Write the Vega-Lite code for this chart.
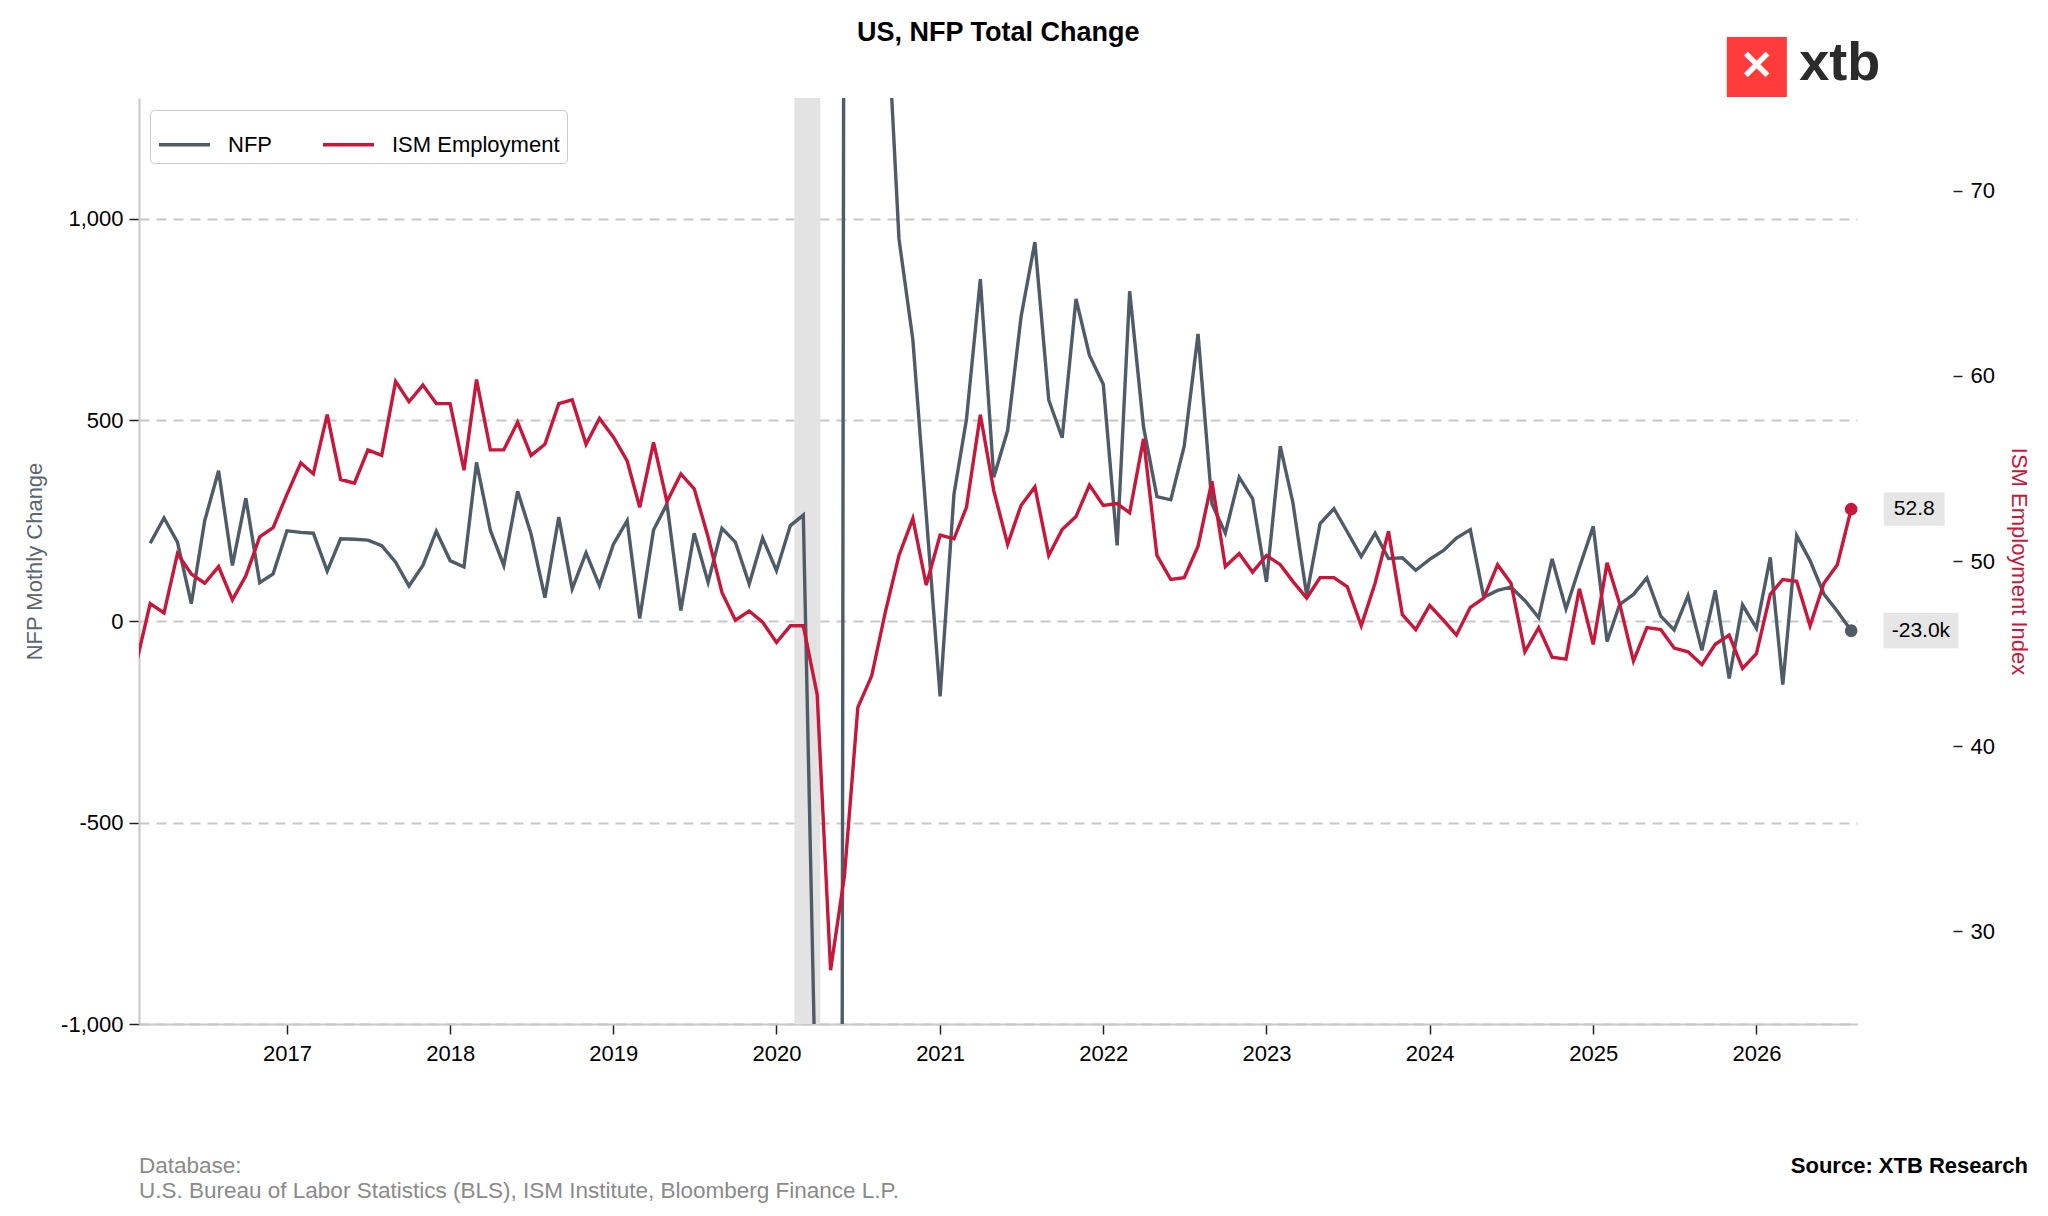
{
  "$schema": "https://vega.github.io/schema/vega-lite/v6.json",
  "autosize": {"type": "none"},
  "padding": {"left": 139, "top": 98, "right": 191, "bottom": 192},
  "width": 1718,
  "height": 926,
  "data": {
    "values": [
      {"d": "2016-02-01", "nfp": null, "ism": 44.7},
      {"d": "2016-03-01", "nfp": 194, "ism": 47.7},
      {"d": "2016-04-01", "nfp": 257, "ism": 47.2},
      {"d": "2016-05-01", "nfp": 197, "ism": 50.4},
      {"d": "2016-06-01", "nfp": 44, "ism": 49.3},
      {"d": "2016-07-01", "nfp": 250, "ism": 48.8},
      {"d": "2016-08-01", "nfp": 374, "ism": 49.7},
      {"d": "2016-09-01", "nfp": 139, "ism": 47.9},
      {"d": "2016-10-01", "nfp": 306, "ism": 49.2},
      {"d": "2016-11-01", "nfp": 96, "ism": 51.3},
      {"d": "2016-12-01", "nfp": 118, "ism": 51.8},
      {"d": "2017-01-01", "nfp": 225, "ism": 53.6},
      {"d": "2017-02-01", "nfp": 221, "ism": 55.3},
      {"d": "2017-03-01", "nfp": 219, "ism": 54.7},
      {"d": "2017-04-01", "nfp": 125, "ism": 57.9},
      {"d": "2017-05-01", "nfp": 205, "ism": 54.4},
      {"d": "2017-06-01", "nfp": 204, "ism": 54.2},
      {"d": "2017-07-01", "nfp": 202, "ism": 56.0},
      {"d": "2017-08-01", "nfp": 188, "ism": 55.7},
      {"d": "2017-09-01", "nfp": 147, "ism": 59.7},
      {"d": "2017-10-01", "nfp": 88, "ism": 58.6},
      {"d": "2017-11-01", "nfp": 139, "ism": 59.5},
      {"d": "2017-12-01", "nfp": 224, "ism": 58.5},
      {"d": "2018-01-01", "nfp": 151, "ism": 58.5},
      {"d": "2018-02-01", "nfp": 135, "ism": 54.9},
      {"d": "2018-03-01", "nfp": 395, "ism": 59.8},
      {"d": "2018-04-01", "nfp": 226, "ism": 56.0},
      {"d": "2018-05-01", "nfp": 139, "ism": 56.0},
      {"d": "2018-06-01", "nfp": 323, "ism": 57.5},
      {"d": "2018-07-01", "nfp": 217, "ism": 55.7},
      {"d": "2018-08-01", "nfp": 59, "ism": 56.3},
      {"d": "2018-09-01", "nfp": 259, "ism": 58.5},
      {"d": "2018-10-01", "nfp": 81, "ism": 58.7},
      {"d": "2018-11-01", "nfp": 170, "ism": 56.3},
      {"d": "2018-12-01", "nfp": 89, "ism": 57.7},
      {"d": "2019-01-01", "nfp": 191, "ism": 56.7},
      {"d": "2019-02-01", "nfp": 250, "ism": 55.4},
      {"d": "2019-03-01", "nfp": 7, "ism": 52.9},
      {"d": "2019-04-01", "nfp": 227, "ism": 56.4},
      {"d": "2019-05-01", "nfp": 292, "ism": 53.2},
      {"d": "2019-06-01", "nfp": 27, "ism": 54.7},
      {"d": "2019-07-01", "nfp": 219, "ism": 53.9},
      {"d": "2019-08-01", "nfp": 97, "ism": 51.3},
      {"d": "2019-09-01", "nfp": 231, "ism": 48.3},
      {"d": "2019-10-01", "nfp": 197, "ism": 46.8},
      {"d": "2019-11-01", "nfp": 93, "ism": 47.3},
      {"d": "2019-12-01", "nfp": 207, "ism": 46.7},
      {"d": "2020-01-01", "nfp": 126, "ism": 45.6},
      {"d": "2020-02-01", "nfp": 238, "ism": 46.5},
      {"d": "2020-03-01", "nfp": 264, "ism": 46.5},
      {"d": "2020-04-01", "nfp": -1370, "ism": 42.8},
      {"d": "2020-05-01", "nfp": -20500, "ism": 27.9},
      {"d": "2020-06-01", "nfp": 2700, "ism": 33.0},
      {"d": "2020-07-01", "nfp": 4500, "ism": 42.1},
      {"d": "2020-08-01", "nfp": 1700, "ism": 43.8},
      {"d": "2020-09-01", "nfp": 1600, "ism": 47.3},
      {"d": "2020-10-01", "nfp": 950, "ism": 50.3},
      {"d": "2020-11-01", "nfp": 700, "ism": 52.3},
      {"d": "2020-12-01", "nfp": 265, "ism": 48.7},
      {"d": "2021-01-01", "nfp": -186, "ism": 51.4},
      {"d": "2021-02-01", "nfp": 316, "ism": 51.2},
      {"d": "2021-03-01", "nfp": 502, "ism": 52.9},
      {"d": "2021-04-01", "nfp": 850, "ism": 57.9},
      {"d": "2021-05-01", "nfp": 358, "ism": 53.8},
      {"d": "2021-06-01", "nfp": 474, "ism": 50.9},
      {"d": "2021-07-01", "nfp": 756, "ism": 53.0},
      {"d": "2021-08-01", "nfp": 942, "ism": 54.0},
      {"d": "2021-09-01", "nfp": 550, "ism": 50.3},
      {"d": "2021-10-01", "nfp": 456, "ism": 51.7},
      {"d": "2021-11-01", "nfp": 801, "ism": 52.4},
      {"d": "2021-12-01", "nfp": 661, "ism": 54.1},
      {"d": "2022-01-01", "nfp": 589, "ism": 53.0},
      {"d": "2022-02-01", "nfp": 189, "ism": 53.1},
      {"d": "2022-03-01", "nfp": 820, "ism": 52.6},
      {"d": "2022-04-01", "nfp": 483, "ism": 56.6},
      {"d": "2022-05-01", "nfp": 310, "ism": 50.3},
      {"d": "2022-06-01", "nfp": 302, "ism": 49.0},
      {"d": "2022-07-01", "nfp": 435, "ism": 49.1},
      {"d": "2022-08-01", "nfp": 714, "ism": 50.8},
      {"d": "2022-09-01", "nfp": 292, "ism": 54.3},
      {"d": "2022-10-01", "nfp": 219, "ism": 49.7},
      {"d": "2022-11-01", "nfp": 358, "ism": 50.4},
      {"d": "2022-12-01", "nfp": 305, "ism": 49.4},
      {"d": "2023-01-01", "nfp": 98, "ism": 50.3},
      {"d": "2023-02-01", "nfp": 435, "ism": 49.8},
      {"d": "2023-03-01", "nfp": 296, "ism": 48.9},
      {"d": "2023-04-01", "nfp": 65, "ism": 48.0},
      {"d": "2023-05-01", "nfp": 243, "ism": 49.1},
      {"d": "2023-06-01", "nfp": 280, "ism": 49.1},
      {"d": "2023-07-01", "nfp": 222, "ism": 48.6},
      {"d": "2023-08-01", "nfp": 161, "ism": 46.5},
      {"d": "2023-09-01", "nfp": 219, "ism": 48.8},
      {"d": "2023-10-01", "nfp": 156, "ism": 51.6},
      {"d": "2023-11-01", "nfp": 158, "ism": 47.1},
      {"d": "2023-12-01", "nfp": 127, "ism": 46.3},
      {"d": "2024-01-01", "nfp": 154, "ism": 47.6},
      {"d": "2024-02-01", "nfp": 176, "ism": 46.8},
      {"d": "2024-03-01", "nfp": 207, "ism": 46.0},
      {"d": "2024-04-01", "nfp": 228, "ism": 47.5},
      {"d": "2024-05-01", "nfp": 60, "ism": 48.0},
      {"d": "2024-06-01", "nfp": 77, "ism": 49.8},
      {"d": "2024-07-01", "nfp": 85, "ism": 48.8},
      {"d": "2024-08-01", "nfp": 52, "ism": 45.1},
      {"d": "2024-09-01", "nfp": 9, "ism": 46.4},
      {"d": "2024-10-01", "nfp": 155, "ism": 44.8},
      {"d": "2024-11-01", "nfp": 31, "ism": 44.7},
      {"d": "2024-12-01", "nfp": 134, "ism": 48.5},
      {"d": "2025-01-01", "nfp": 236, "ism": 45.5},
      {"d": "2025-02-01", "nfp": -50, "ism": 49.9},
      {"d": "2025-03-01", "nfp": 42, "ism": 47.7},
      {"d": "2025-04-01", "nfp": 67, "ism": 44.6},
      {"d": "2025-05-01", "nfp": 108, "ism": 46.4},
      {"d": "2025-06-01", "nfp": 13, "ism": 46.3},
      {"d": "2025-07-01", "nfp": -21, "ism": 45.3},
      {"d": "2025-08-01", "nfp": 64, "ism": 45.1},
      {"d": "2025-09-01", "nfp": -72, "ism": 44.4},
      {"d": "2025-10-01", "nfp": 77, "ism": 45.5},
      {"d": "2025-11-01", "nfp": -142, "ism": 46.0},
      {"d": "2025-12-01", "nfp": 41, "ism": 44.2},
      {"d": "2026-01-01", "nfp": -17, "ism": 45.0},
      {"d": "2026-02-01", "nfp": 159, "ism": 48.2},
      {"d": "2026-03-01", "nfp": -157, "ism": 49.0},
      {"d": "2026-04-01", "nfp": 213, "ism": 48.9},
      {"d": "2026-05-01", "nfp": 151, "ism": 46.5},
      {"d": "2026-06-01", "nfp": 68, "ism": 48.8},
      {"d": "2026-07-01", "nfp": 25, "ism": 49.8},
      {"d": "2026-08-01", "nfp": -23, "ism": 52.8}
    ]
  },
  "layer": [
    {
      "layer": [
        {
          "data": {"values": [{}]},
          "mark": {"type": "rect", "color": "#e3e3e3", "clip": true},
          "encoding": {
            "x": {"datum": {"year": 2020, "month": 2, "date": 10, "utc": true}, "type": "temporal"},
            "x2": {"datum": {"year": 2020, "month": 4, "date": 8, "utc": true}}
          }
        },
        {
          "mark": {"type": "line", "strokeWidth": 3.4, "clip": true},
          "encoding": {
            "x": {
              "field": "d", "type": "temporal",
              "scale": {"domain": [{"year": 2016, "month": 2, "date": 5, "utc": true}, {"year": 2026, "month": 8, "date": 14, "utc": true}]},
              "axis": {"title": null, "format": "%Y", "tickCount": {"interval": "year", "step": 1}, "grid": false, "labelFontSize": 22, "labelColor": "#000", "labelPadding": 9, "tickSize": 10, "tickColor": "#222", "tickWidth": 1.5, "domainColor": "#c8c8c8", "domainWidth": 2}
            },
            "y": {
              "field": "nfp", "type": "quantitative",
              "scale": {"domain": [-1000, 1300], "nice": false, "zero": false},
              "axis": {"title": "NFP Mothly Change", "titleColor": "#5b6670", "titleFontWeight": "normal", "titleFontSize": 22, "titlePadding": 14, "values": [-1000, -500, 0, 500, 1000], "format": ",", "labelExpr": "replace(format(datum.value, ','), '\u2212', '-')", "labelFontSize": 22, "labelColor": "#000", "labelPadding": 6, "tickSize": 10, "tickColor": "#222", "tickWidth": 1.5, "domainColor": "#c8c8c8", "domainWidth": 2, "grid": true, "gridColor": "#c8c8c8", "gridDash": [10, 7], "gridWidth": 2}
            },
            "color": {
              "datum": "NFP", "type": "nominal",
              "scale": {"domain": ["NFP", "ISM Employment"], "range": ["#4f5b66", "#c8173a"]},
              "legend": {"title": null, "orient": "none", "legendX": 11, "legendY": 12, "direction": "horizontal", "symbolType": "stroke", "symbolSize": 2600, "symbolStrokeWidth": 3.5, "labelFontSize": 22, "labelLimit": 400, "labelColor": "#000", "strokeColor": "#cccccc", "fillColor": "#ffffff", "padding": 7, "cornerRadius": 4, "columnPadding": 44, "labelOffset": 16}
            }
          }
        },
        {
          "transform": [{"filter": "year(datum.d) == 2026 && month(datum.d) == 7"}],
          "mark": {"type": "point", "filled": true, "size": 160, "color": "#4f5b66", "opacity": 1},
          "encoding": {
            "x": {"field": "d", "type": "temporal"},
            "y": {"field": "nfp", "type": "quantitative"}
          }
        },
        {
          "data": {"values": [{}]},
          "mark": {"type": "point", "filled": true, "shape": "M-1,-0.47H1V0.47H-1Z", "size": 5600, "color": "#e6e6e6", "opacity": 1},
          "encoding": {
            "x": {"datum": {"year": 2027, "month": 1, "date": 4, "utc": true}, "type": "temporal"},
            "y": {"datum": -23, "type": "quantitative"}
          }
        },
        {
          "data": {"values": [{}]},
          "mark": {"type": "text", "text": "-23.0k", "fontSize": 21, "color": "#000", "align": "center", "baseline": "middle"},
          "encoding": {
            "x": {"datum": {"year": 2027, "month": 1, "date": 4, "utc": true}, "type": "temporal"},
            "y": {"datum": -23, "type": "quantitative"}
          }
        },
        {
          "data": {"values": [{}]},
          "mark": {"type": "text", "text": "US, NFP Total Change", "fontSize": 27, "fontWeight": "bold", "color": "#000", "align": "center", "baseline": "middle"},
          "encoding": {
            "x": {"datum": {"year": 2021, "month": 5, "date": 11, "utc": true}, "type": "temporal"},
            "y": {"datum": 1462, "type": "quantitative"}
          }
        },
        {
          "data": {"values": [{}]},
          "mark": {"type": "point", "filled": true, "shape": "square", "size": 3600, "color": "#ff3b3b", "opacity": 1},
          "encoding": {
            "x": {"datum": {"year": 2026, "month": 1, "date": 2, "utc": true}, "type": "temporal"},
            "y": {"datum": 1377, "type": "quantitative"}
          }
        },
        {
          "data": {"values": [{}]},
          "mark": {"type": "text", "text": "✕", "fontSize": 40, "fontWeight": "bold", "color": "#ffffff", "align": "center", "baseline": "middle"},
          "encoding": {
            "x": {"datum": {"year": 2026, "month": 1, "date": 2, "utc": true}, "type": "temporal"},
            "y": {"datum": 1377, "type": "quantitative"}
          }
        },
        {
          "data": {"values": [{}]},
          "mark": {"type": "text", "text": "xtb", "fontSize": 54, "fontWeight": "bold", "color": "#2b2b2b", "align": "left", "baseline": "alphabetic"},
          "encoding": {
            "x": {"datum": {"year": 2026, "month": 4, "date": 7, "utc": true}, "type": "temporal"},
            "y": {"datum": 1345, "type": "quantitative"}
          }
        },
        {
          "data": {"values": [{}]},
          "mark": {"type": "text", "text": "Source: XTB Research", "fontSize": 22, "fontWeight": "bold", "color": "#000", "align": "right", "baseline": "middle", "dx": 171},
          "encoding": {
            "x": {"datum": {"year": 2026, "month": 8, "date": 14, "utc": true}, "type": "temporal"},
            "y": {"datum": -1353, "type": "quantitative"}
          }
        },
        {
          "data": {"values": [{}]},
          "mark": {"type": "text", "text": ["Database:", "U.S. Bureau of Labor Statistics (BLS), ISM Institute, Bloomberg Finance L.P."], "fontSize": 22.5, "color": "#8a8a8a", "align": "left", "baseline": "middle", "lineHeight": 25},
          "encoding": {
            "x": {"datum": {"year": 2016, "month": 2, "date": 5, "utc": true}, "type": "temporal"},
            "y": {"datum": -1353, "type": "quantitative"}
          }
        }
      ]
    },
    {
      "layer": [
        {
          "mark": {"type": "line", "strokeWidth": 3.4, "clip": true},
          "encoding": {
            "x": {"field": "d", "type": "temporal"},
            "y": {
              "field": "ism", "type": "quantitative",
              "scale": {"domain": [25, 75], "nice": false, "zero": false},
              "axis": {"orient": "right", "offset": 96, "title": "ISM Employment Index", "titleColor": "#c8173a", "titleFontWeight": "normal", "titleFontSize": 22, "titlePadding": 12, "values": [30, 40, 50, 60, 70], "labelFontSize": 22, "labelColor": "#000", "labelPadding": 8, "tickSize": 9, "tickColor": "#222", "tickWidth": 1.5, "domain": false, "grid": false}
            },
            "color": {"datum": "ISM Employment", "type": "nominal"}
          }
        },
        {
          "transform": [{"filter": "year(datum.d) == 2026 && month(datum.d) == 7"}],
          "mark": {"type": "point", "filled": true, "size": 160, "color": "#c8173a", "opacity": 1},
          "encoding": {
            "x": {"field": "d", "type": "temporal"},
            "y": {"field": "ism", "type": "quantitative"}
          }
        },
        {
          "data": {"values": [{}]},
          "mark": {"type": "point", "filled": true, "shape": "M-1,-0.55H1V0.55H-1Z", "size": 3700, "color": "#e6e6e6", "opacity": 1},
          "encoding": {
            "x": {"datum": {"year": 2026, "month": 12, "date": 20, "utc": true}, "type": "temporal"},
            "y": {"datum": 52.8, "type": "quantitative"}
          }
        },
        {
          "data": {"values": [{}]},
          "mark": {"type": "text", "text": "52.8", "fontSize": 21, "color": "#000", "align": "center", "baseline": "middle"},
          "encoding": {
            "x": {"datum": {"year": 2026, "month": 12, "date": 20, "utc": true}, "type": "temporal"},
            "y": {"datum": 52.8, "type": "quantitative"}
          }
        }
      ]
    }
  ],
  "resolve": {"scale": {"y": "independent"}, "axis": {"y": "independent"}},
  "config": {
    "font": "Liberation Sans",
    "view": {"stroke": null},
    "axis": {"labelFont": "Liberation Sans", "titleFont": "Liberation Sans"}
  }
}
